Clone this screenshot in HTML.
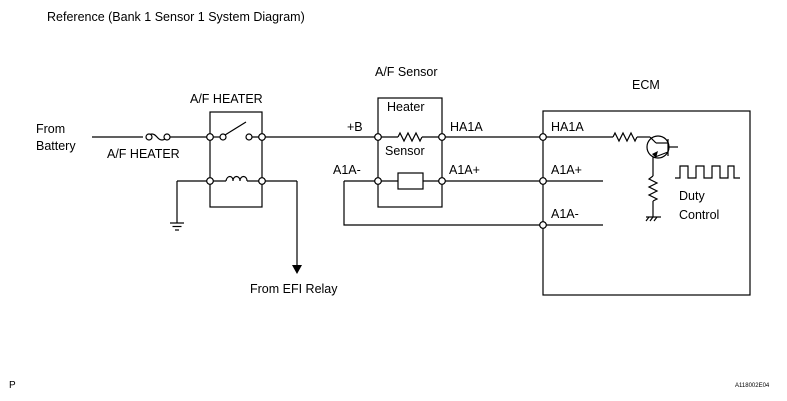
<!DOCTYPE html>
<html><head><style>
html,body{margin:0;padding:0;background:#fff;}
svg{display:block;font-family:"Liberation Sans",Arial,sans-serif;}
</style></head><body>
<svg width="787" height="401" viewBox="0 0 787 401" xmlns="http://www.w3.org/2000/svg">
<g fill="#000" font-size="12.5">
<text x="47" y="21">Reference (Bank 1 Sensor 1 System Diagram)</text>
<text x="36" y="133">From</text>
<text x="36" y="150">Battery</text>
<text x="107" y="158">A/F HEATER</text>
<text x="190" y="103">A/F HEATER</text>
<text x="375" y="76">A/F Sensor</text>
<text x="632" y="89">ECM</text>
<text x="387" y="111">Heater</text>
<text x="385" y="155">Sensor</text>
<text x="347" y="131">+B</text>
<text x="450" y="131">HA1A</text>
<text x="333" y="174">A1A-</text>
<text x="449" y="174">A1A+</text>
<text x="551" y="131">HA1A</text>
<text x="551" y="174">A1A+</text>
<text x="551" y="218">A1A-</text>
<text x="679" y="200">Duty</text>
<text x="679" y="219">Control</text>
<text x="250" y="293">From EFI Relay</text>
<text x="9" y="388" font-size="10">P</text>
<text x="735" y="387" font-size="6">A118002E04</text>
</g>
<g stroke="#000" stroke-width="1.2" fill="none">
<!-- battery line -->
<line x1="92" y1="137" x2="143" y2="137"/>
<path d="M147,137 q5,-6 10,0 q5,6 10,0"/>
<line x1="170" y1="137" x2="210" y2="137"/>
<!-- relay box -->
<rect x="210" y="112" width="52" height="95"/>
<line x1="210" y1="137" x2="222" y2="137"/>
<line x1="225" y1="135" x2="246" y2="122"/>
<line x1="249" y1="137" x2="378" y2="137"/>
<!-- coil line -->
<line x1="177" y1="181" x2="226" y2="181"/>
<path d="M226,181 c1,-6 7,-6 7,0 c0,-6 7,-6 7,0 c0,-6 7,-6 7,0"/>
<line x1="247" y1="181" x2="297" y2="181"/>
<line x1="177" y1="181" x2="177" y2="223"/>
<line x1="170" y1="223" x2="184" y2="223"/>
<line x1="172.5" y1="226.5" x2="181.5" y2="226.5"/>
<line x1="175" y1="230" x2="179" y2="230"/>
<line x1="297" y1="181" x2="297" y2="266"/>
<!-- sensor box -->
<rect x="378" y="98" width="64" height="109"/>
<line x1="378" y1="137" x2="398" y2="137"/>
<path d="M398,137 l2,-4 l4,8 l4,-8 l4,8 l4,-8 l4,8 l2,-4"/>
<line x1="422" y1="137" x2="543" y2="137"/>
<rect x="398" y="173" width="25" height="16"/>
<line x1="344" y1="181" x2="398" y2="181"/>
<line x1="423" y1="181" x2="603" y2="181"/>
<polyline points="344,181 344,225 603,225"/>
<!-- ECM -->
<rect x="543" y="111" width="207" height="184"/>
<line x1="543" y1="137" x2="613" y2="137"/>
<path d="M613,137 l2,-4 l4,8 l4,-8 l4,8 l4,-8 l4,8 l2,-4"/>
<line x1="637" y1="137" x2="650" y2="137"/>
<line x1="650" y1="137" x2="656" y2="143"/>
<circle cx="658" cy="147" r="11"/>
<line x1="668" y1="139" x2="668" y2="156"/>
<line x1="668" y1="147" x2="678" y2="147"/>
<line x1="656" y1="143" x2="668" y2="143"/>
<line x1="668" y1="152" x2="655" y2="157"/>
<line x1="653" y1="157" x2="653" y2="176"/>
<path d="M653,176 l-4,3 l8,4 l-8,4 l8,4 l-8,4 l8,4 l-4,2"/>
<line x1="653" y1="201" x2="653" y2="217"/>
<line x1="646" y1="217" x2="661" y2="217"/>
<line x1="649" y1="217" x2="646" y2="221"/>
<line x1="653" y1="217" x2="650" y2="221"/>
<line x1="657" y1="217" x2="654" y2="221"/>
<polyline points="675,178 680,178 680,166 688,166 688,178 696,178 696,166 704,166 704,178 712,178 712,166 720,166 720,178 728,178 728,166 734,166 734,178 740,178"/>
</g>
<polygon points="292,265 302,265 297,274" fill="#000"/>
<g stroke="#000" stroke-width="1.2" fill="#fff">
<circle cx="149" cy="137" r="3"/><circle cx="167" cy="137" r="3"/>
<circle cx="210" cy="137" r="3.3"/><circle cx="223" cy="137" r="3"/>
<circle cx="249" cy="137" r="3"/><circle cx="262" cy="137" r="3.3"/>
<circle cx="210" cy="181" r="3.3"/><circle cx="262" cy="181" r="3.3"/>
<circle cx="378" cy="137" r="3.3"/><circle cx="442" cy="137" r="3.3"/>
<circle cx="378" cy="181" r="3.3"/><circle cx="442" cy="181" r="3.3"/>
<circle cx="543" cy="137" r="3.3"/><circle cx="543" cy="181" r="3.3"/>
<circle cx="543" cy="225" r="3.3"/>
</g>
<polygon points="652,154 658,151 656,158" fill="#000"/>
</svg>
</body></html>
